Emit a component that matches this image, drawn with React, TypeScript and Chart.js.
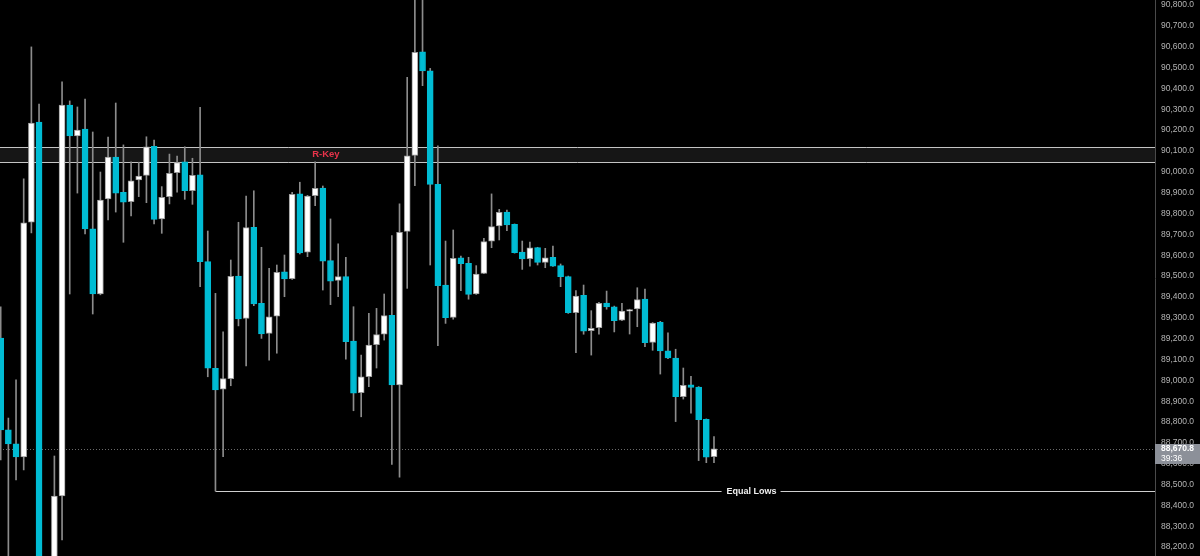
import React, { useEffect, useRef } from "react";
import { Chart, registerables } from "chart.js";

Chart.register(...registerables);

// candle index (time order)
const categories: number[] = Array.from({ length: 94 }, (_, i) => i);

const opens = [89203, 88762, 88695, 88632, 89759, 90239, 88030, 87990, 88445, 90320, 90172, 90205, 89726, 89414, 89870, 90071, 89902, 89857, 89961, 89983, 90122, 89774, 89881, 89996, 90048, 89909, 89985, 89569, 89058, 88957, 89008, 89500, 89297, 89734, 89369, 89225, 89308, 89520, 89487, 89894, 89614, 89885, 89922, 89574, 89479, 89497, 89188, 88941, 89017, 89171, 89221, 89312, 88978, 89714, 90079, 90575, 90484, 89940, 89457, 89302, 89588, 89561, 89414, 89513, 89667, 89740, 89807, 89748, 89615, 89583, 89636, 89566, 89590, 89550, 89497, 89324, 89408, 89238, 89252, 89371, 89353, 89288, 89332, 89342, 89390, 89182, 89278, 89141, 89107, 88921, 88978, 88968, 88813, 88634];
const highs = [89352, 88819, 89002, 89966, 90599, 90325, 88140, 88637, 90431, 90340, 90311, 90349, 90191, 89999, 90167, 90330, 90129, 90048, 90046, 90168, 90152, 89929, 90085, 90076, 90120, 90065, 90309, 89716, 89417, 89233, 89577, 89758, 89884, 89909, 89638, 89537, 89553, 89601, 89902, 89950, 89887, 90048, 89932, 89774, 89654, 89590, 89353, 89121, 89321, 89345, 89414, 89694, 89846, 90453, 90860, 90850, 90496, 90125, 89668, 89721, 89596, 89590, 89550, 89681, 89894, 89820, 89817, 89750, 89668, 89663, 89638, 89633, 89644, 89558, 89500, 89430, 89457, 89334, 89374, 89428, 89356, 89369, 89341, 89444, 89437, 89277, 89283, 89228, 89149, 89059, 89019, 88970, 88815, 88730];
const lows = [88618, 88100, 88522, 88570, 89707, 87950, 87900, 87950, 88234, 89414, 89898, 89702, 89318, 89410, 89769, 89807, 89662, 89788, 89881, 89852, 89750, 89705, 89846, 89902, 89868, 89844, 89449, 89017, 88469, 88634, 88974, 89261, 89069, 89358, 89201, 89097, 89130, 89401, 89484, 89606, 89593, 89837, 89433, 89363, 89401, 89102, 88854, 88825, 88969, 89059, 89193, 88597, 88535, 89441, 89933, 90413, 89553, 89166, 89273, 89293, 89430, 89389, 89412, 89511, 89636, 89673, 89718, 89610, 89532, 89548, 89553, 89540, 89546, 89449, 89321, 89132, 89221, 89121, 89221, 89341, 89232, 89286, 89222, 89257, 89161, 89144, 89030, 89104, 88802, 88910, 88842, 88615, 88605, 88605];
const closes = [88762, 88695, 88632, 89755, 90234, 88030, 87980, 88445, 90320, 90172, 90200, 89726, 89414, 89865, 90071, 89898, 89854, 89957, 89980, 90120, 89772, 89878, 89993, 90044, 89909, 89983, 89569, 89058, 88954, 89008, 89499, 89294, 89732, 89366, 89222, 89305, 89518, 89486, 89892, 89611, 89884, 89921, 89572, 89476, 89497, 89185, 88938, 89017, 89169, 89219, 89310, 88978, 89710, 90077, 90573, 90484, 89940, 89454, 89300, 89585, 89559, 89412, 89510, 89665, 89737, 89806, 89745, 89612, 89582, 89635, 89566, 89588, 89548, 89497, 89324, 89404, 89236, 89249, 89369, 89352, 89286, 89332, 89339, 89387, 89180, 89275, 89141, 89107, 88921, 88976, 88966, 88811, 88631, 88670.8];

const yTickValues = [88200, 88300, 88400, 88500, 88600, 88700, 88800, 88900, 89000, 89100, 89200, 89300, 89400, 89500, 89600, 89700, 89800, 89900, 90000, 90100, 90200, 90300, 90400, 90500, 90600, 90700, 90800];

const lastPrice = 88670.8;
const countdown = "39:36";
const zoneTop = 90119;
const zoneBottom = 90049;
const zoneLabel = "R-Key";
const zoneLabelAt = 42.4;
const equalLowsPrice = 88469;
const equalLowsFrom = 28;
const equalLowsLabel = "Equal Lows";
const equalLowsLabelAt = 97.9;

const UP = "#ffffff";
const UP_BORDER = "#9a9a9a";
const DOWN = "#00bcd4";
const WICK = "#8c8c8c";

const fmt = (v: number) =>
  v.toLocaleString("en-US", { minimumFractionDigits: 1, maximumFractionDigits: 1 });

const overlay = {
  id: "overlay",
  beforeDraw(chart: any) {
    const { ctx, width, height } = chart;
    ctx.save();
    ctx.fillStyle = "#000000";
    ctx.fillRect(0, 0, width, height);
    ctx.restore();
  },
  beforeDatasetsDraw(chart: any) {
    const { ctx, chartArea, scales } = chart;
    const x = scales.x;
    const y = scales.y;
    const L = chartArea.left;
    const R = chartArea.right;
    ctx.save();
    // zone
    const yt = Math.round(y.getPixelForValue(zoneTop)) + 0.5;
    const yb = Math.round(y.getPixelForValue(zoneBottom)) + 0.5;
    ctx.fillStyle = "#161616";
    ctx.fillRect(L, yt, R - L, yb - yt);
    ctx.strokeStyle = "#c4c4c4";
    ctx.lineWidth = 1;
    ctx.beginPath();
    ctx.moveTo(L, yt);
    ctx.lineTo(R, yt);
    ctx.moveTo(L, yb);
    ctx.lineTo(R, yb);
    ctx.stroke();
    // last price dotted line
    const yl = Math.round(y.getPixelForValue(lastPrice)) + 0.5;
    ctx.strokeStyle = "#6a6a6a";
    ctx.setLineDash([1, 2]);
    ctx.beginPath();
    ctx.moveTo(L, yl);
    ctx.lineTo(R, yl);
    ctx.stroke();
    ctx.setLineDash([]);
    // equal lows line
    const ye = Math.round(y.getPixelForValue(equalLowsPrice)) + 0.5;
    const xs = x.getPixelForValue(equalLowsFrom);
    const xc = x.getPixelForValue(equalLowsLabelAt);
    ctx.font = "bold 9px 'Liberation Sans', Arial, sans-serif";
    const tw = ctx.measureText(equalLowsLabel).width;
    ctx.strokeStyle = "#cfcfcf";
    ctx.beginPath();
    ctx.moveTo(xs, ye);
    ctx.lineTo(xc - tw / 2 - 5, ye);
    ctx.moveTo(xc + tw / 2 + 4, ye);
    ctx.lineTo(R, ye);
    ctx.stroke();
    ctx.restore();
  },
  afterDraw(chart: any) {
    const { ctx, chartArea, scales, width } = chart;
    const x = scales.x;
    const y = scales.y;
    ctx.save();
    // zone label
    ctx.font = "bold 9.5px 'Liberation Sans', Arial, sans-serif";
    ctx.fillStyle = "#e8334a";
    ctx.textAlign = "center";
    ctx.textBaseline = "middle";
    ctx.fillText(zoneLabel, x.getPixelForValue(zoneLabelAt), (y.getPixelForValue(zoneTop) + y.getPixelForValue(zoneBottom)) / 2);
    // equal lows label
    ctx.font = "bold 9px 'Liberation Sans', Arial, sans-serif";
    ctx.fillStyle = "#f0f0f0";
    ctx.fillText(equalLowsLabel, x.getPixelForValue(equalLowsLabelAt), y.getPixelForValue(equalLowsPrice));
    // price tag
    const yl = y.getPixelForValue(lastPrice);
    ctx.fillStyle = "#8c9099";
    ctx.fillRect(chartArea.right, Math.round(yl - 5), width - chartArea.right, 20);
    ctx.fillStyle = "#ffffff";
    ctx.textAlign = "left";
    ctx.font = "bold 8.5px 'Liberation Sans', Arial, sans-serif";
    ctx.fillText(fmt(lastPrice), chartArea.right + 6, yl);
    ctx.font = "8.5px 'Liberation Sans', Arial, sans-serif";
    ctx.fillText(countdown, chartArea.right + 6, yl + 9.5);
    ctx.restore();
  },
};

export default function App() {
  const ref = useRef<HTMLCanvasElement | null>(null);

  useEffect(() => {
    document.body.style.margin = "0";
    document.body.style.background = "#000";
    const canvas = ref.current;
    if (!canvas) return;

    const wickData = categories.map((i) => ({ x: i, y: [lows[i], highs[i]] }));
    const bodyData = categories.map((i) => ({ x: i, y: [opens[i], closes[i]] }));
    const isUp = categories.map((i) => closes[i] >= opens[i]);

    const chart = new Chart(canvas, {
      type: "bar",
      data: {
        datasets: [
          {
            label: "wick",
            data: wickData as any,
            backgroundColor: WICK,
            borderWidth: 0,
            barThickness: 1,
            grouped: false,
            order: 2,
          } as any,
          {
            label: "body",
            data: bodyData as any,
            backgroundColor: isUp.map((u) => (u ? UP : DOWN)),
            borderColor: isUp.map((u) => (u ? UP_BORDER : DOWN)),
            borderWidth: 1,
            borderSkipped: false,
            barThickness: 6,
            minBarLength: 1.5,
            grouped: false,
            order: 1,
          } as any,
        ],
      },
      options: {
        responsive: false,
        animation: false,
        devicePixelRatio: 1,
        layout: { padding: 0 },
        plugins: { legend: { display: false }, tooltip: { enabled: false } },
        scales: {
          x: {
            type: "linear",
            min: -0.091,
            max: 150.5,
            display: false,
            offset: false,
          },
          y: {
            type: "linear",
            position: "right",
            min: 88157.4,
            max: 90824,
            grid: { display: false, drawTicks: false },
            border: { display: true, color: "#4a4a4a", width: 1 },
            afterFit: (scale: any) => {
              scale.width = 45;
              scale.paddingTop = 0;
              scale.paddingBottom = 0;
            },
            afterBuildTicks: (scale: any) => {
              scale.ticks = yTickValues.map((v) => ({ value: v }));
            },
            ticks: {
              color: "#b4b4b4",
              padding: 6,
              font: { family: "'Liberation Sans', Arial, sans-serif", size: 8.5 },
              callback: (v: any) => fmt(Number(v)),
            },
          },
        },
      } as any,
      plugins: [overlay],
    });

    return () => chart.destroy();
  }, []);

  return (
    <div style={{ width: 1200, height: 556, background: "#000" }}>
      <canvas ref={ref} width={1200} height={556} style={{ display: "block" }} />
    </div>
  );
}
